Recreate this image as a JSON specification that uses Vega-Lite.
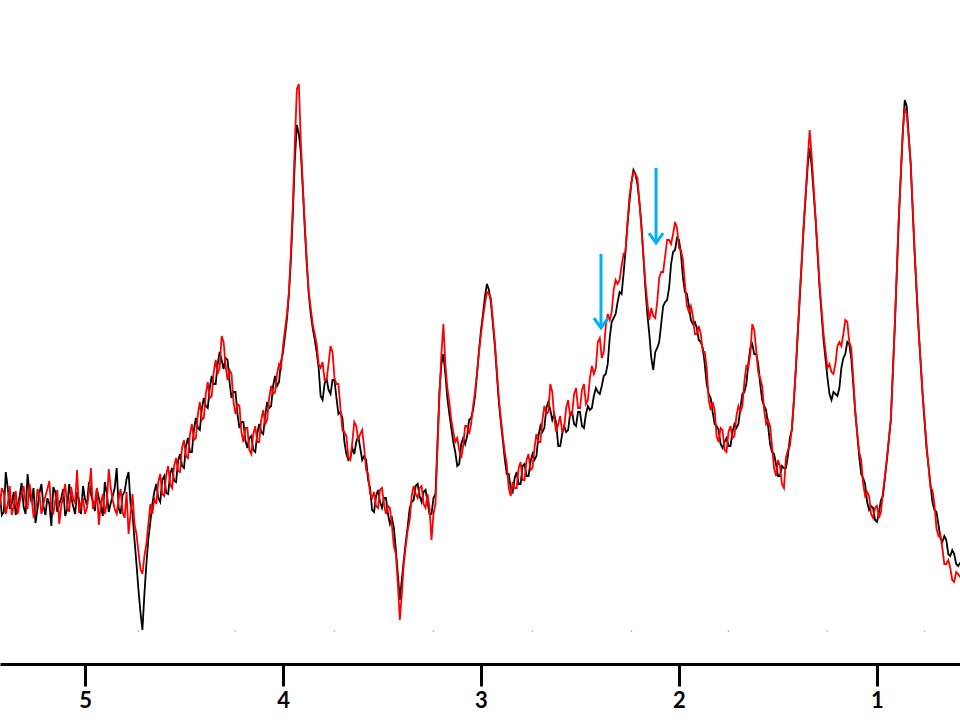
{
"$schema": "https://vega.github.io/schema/vega-lite/v6.json",
"width": 960, "height": 664,
"autosize": {"type": "none"},
"padding": {"left": 0, "top": 0, "right": 0, "bottom": 56},
"background": "white",
"config": {"view": {"stroke": null}},
"datasets": {
"spec": [
{"p":5.43,"b":170,"r":158},{"p":5.41,"b":152,"r":171},{"p":5.39,"b":176,"r":160},{"p":5.37,"b":160,"r":149},{"p":5.35,"b":149,"r":173},
{"p":5.33,"b":168,"r":162},{"p":5.31,"b":157,"r":178},{"p":5.29,"b":190,"r":155},{"p":5.27,"b":162,"r":166},{"p":5.25,"b":141,"r":152},
{"p":5.23,"b":171,"r":170},{"p":5.21,"b":158,"r":160},{"p":5.19,"b":166,"r":175},{"p":5.17,"b":138,"r":154},{"p":5.15,"b":172,"r":163},
{"p":5.13,"b":160,"r":140},{"p":5.11,"b":175,"r":169},{"p":5.09,"b":155,"r":158},{"p":5.07,"b":167,"r":177},{"p":5.05,"b":150,"r":161},
{"p":5.03,"b":164,"r":151},{"p":5.01,"b":178,"r":166},{"p":4.99,"b":159,"r":156},{"p":4.97,"b":170,"r":196},{"p":4.95,"b":153,"r":162},
{"p":4.93,"b":166,"r":139},{"p":4.91,"b":148,"r":170},{"p":4.89,"b":171,"r":160},{"p":4.87,"b":161,"r":176},{"p":4.85,"b":176,"r":155},
{"p":4.83,"b":156,"r":165},{"p":4.81,"b":169,"r":152},{"p":4.79,"b":185,"r":172},{"p":4.77,"b":160,"r":150},{"p":4.75,"b":124,"r":140},
{"p":4.73,"b":74,"r":112},{"p":4.71,"b":34,"r":90},{"p":4.69,"b":100,"r":120},{"p":4.67,"b":142,"r":160},{"p":4.65,"b":172,"r":165},
{"p":4.63,"b":166,"r":182},{"p":4.61,"b":184,"r":170},{"p":4.59,"b":171,"r":189},{"p":4.57,"b":190,"r":180},{"p":4.55,"b":183,"r":198},
{"p":4.53,"b":203,"r":193},{"p":4.51,"b":198,"r":216},{"p":4.49,"b":218,"r":208},{"p":4.47,"b":212,"r":230},{"p":4.45,"b":234,"r":224},
{"p":4.43,"b":236,"r":250},{"p":4.41,"b":255,"r":244},{"p":4.39,"b":258,"r":270},{"p":4.37,"b":276,"r":266},{"p":4.35,"b":280,"r":292},
{"p":4.33,"b":300,"r":290},{"p":4.31,"b":304,"r":328},{"p":4.29,"b":306,"r":298},{"p":4.27,"b":282,"r":294},{"p":4.25,"b":272,"r":262},
{"p":4.23,"b":250,"r":260},{"p":4.21,"b":242,"r":232},{"p":4.19,"b":224,"r":236},{"p":4.17,"b":226,"r":214},{"p":4.15,"b":214,"r":230},
{"p":4.13,"b":230,"r":222},{"p":4.11,"b":232,"r":244},{"p":4.09,"b":248,"r":240},{"p":4.07,"b":256,"r":266},{"p":4.05,"b":278,"r":270},
{"p":4.03,"b":278,"r":290},{"p":4.01,"b":302,"r":296},{"p":3.99,"b":328,"r":334},{"p":3.97,"b":370,"r":372},{"p":3.95,"b":452,"r":460},
{"p":3.94,"b":505,"r":522},{"p":3.93,"b":539,"r":575},{"p":3.92,"b":530,"r":580},{"p":3.91,"b":512,"r":522},{"p":3.89,"b":436,"r":440},
{"p":3.87,"b":370,"r":372},{"p":3.85,"b":336,"r":340},{"p":3.83,"b":312,"r":320},{"p":3.81,"b":268,"r":296},{"p":3.79,"b":280,"r":284},
{"p":3.77,"b":274,"r":300},{"p":3.75,"b":284,"r":312},{"p":3.73,"b":266,"r":280},{"p":3.71,"b":252,"r":256},{"p":3.69,"b":222,"r":232},
{"p":3.67,"b":204,"r":206},{"p":3.65,"b":216,"r":222},{"p":3.63,"b":222,"r":238},{"p":3.61,"b":216,"r":230},{"p":3.59,"b":208,"r":216},
{"p":3.57,"b":184,"r":190},{"p":3.55,"b":154,"r":166},{"p":3.53,"b":168,"r":158},{"p":3.51,"b":162,"r":174},{"p":3.49,"b":166,"r":160},
{"p":3.47,"b":150,"r":158},{"p":3.45,"b":146,"r":138},{"p":3.43,"b":114,"r":110},{"p":3.41,"b":64,"r":44},{"p":3.39,"b":104,"r":100},
{"p":3.37,"b":138,"r":134},{"p":3.35,"b":162,"r":168},{"p":3.33,"b":178,"r":170},{"p":3.31,"b":168,"r":176},{"p":3.29,"b":172,"r":160},
{"p":3.27,"b":162,"r":170},{"p":3.25,"b":150,"r":124},{"p":3.23,"b":170,"r":160},{"p":3.21,"b":272,"r":268},{"p":3.19,"b":310,"r":340},
{"p":3.17,"b":266,"r":276},{"p":3.15,"b":236,"r":244},{"p":3.13,"b":212,"r":222},{"p":3.11,"b":200,"r":214},{"p":3.09,"b":226,"r":218},
{"p":3.07,"b":228,"r":238},{"p":3.05,"b":246,"r":240},{"p":3.03,"b":268,"r":272},{"p":3.01,"b":314,"r":312},{"p":2.99,"b":350,"r":346},
{"p":2.97,"b":380,"r":372},{"p":2.95,"b":362,"r":366},{"p":2.93,"b":318,"r":322},{"p":2.91,"b":262,"r":266},{"p":2.89,"b":224,"r":228},
{"p":2.87,"b":190,"r":200},{"p":2.85,"b":176,"r":168},{"p":2.83,"b":186,"r":176},{"p":2.81,"b":180,"r":196},{"p":2.79,"b":198,"r":184},
{"p":2.77,"b":188,"r":204},{"p":2.75,"b":202,"r":194},{"p":2.73,"b":204,"r":216},{"p":2.71,"b":228,"r":222},{"p":2.69,"b":232,"r":244},
{"p":2.67,"b":256,"r":250},{"p":2.65,"b":254,"r":280},{"p":2.63,"b":250,"r":246},{"p":2.61,"b":218,"r":240},{"p":2.59,"b":230,"r":232},
{"p":2.57,"b":232,"r":256},{"p":2.55,"b":250,"r":248},{"p":2.53,"b":240,"r":270},{"p":2.51,"b":252,"r":256},{"p":2.49,"b":238,"r":274},
{"p":2.47,"b":250,"r":260},{"p":2.45,"b":254,"r":286},{"p":2.43,"b":268,"r":290},{"p":2.41,"b":272,"r":322},{"p":2.39,"b":278,"r":306},
{"p":2.37,"b":290,"r":338},{"p":2.35,"b":326,"r":344},{"p":2.33,"b":346,"r":374},{"p":2.31,"b":362,"r":380},{"p":2.29,"b":370,"r":398},
{"p":2.27,"b":414,"r":412},{"p":2.25,"b":462,"r":468},{"p":2.23,"b":494,"r":492},{"p":2.21,"b":480,"r":486},{"p":2.19,"b":440,"r":436},
{"p":2.17,"b":376,"r":382},{"p":2.15,"b":330,"r":344},{"p":2.13,"b":294,"r":348},{"p":2.11,"b":316,"r":362},{"p":2.09,"b":340,"r":392},
{"p":2.07,"b":362,"r":408},{"p":2.05,"b":376,"r":424},{"p":2.03,"b":412,"r":430},{"p":2.01,"b":426,"r":436},{"p":1.99,"b":410,"r":414},
{"p":1.97,"b":372,"r":380},{"p":1.95,"b":358,"r":352},{"p":1.93,"b":340,"r":348},{"p":1.91,"b":336,"r":330},{"p":1.89,"b":322,"r":330},
{"p":1.87,"b":300,"r":312},{"p":1.85,"b":270,"r":264},{"p":1.83,"b":252,"r":262},{"p":1.81,"b":238,"r":228},{"p":1.79,"b":220,"r":236},
{"p":1.77,"b":222,"r":214},{"p":1.75,"b":218,"r":232},{"p":1.73,"b":232,"r":226},{"p":1.71,"b":236,"r":248},{"p":1.69,"b":256,"r":252},
{"p":1.67,"b":272,"r":282},{"p":1.65,"b":300,"r":296},{"p":1.63,"b":320,"r":340},{"p":1.61,"b":310,"r":314},{"p":1.59,"b":280,"r":286},
{"p":1.57,"b":258,"r":254},{"p":1.55,"b":238,"r":244},{"p":1.53,"b":212,"r":218},{"p":1.51,"b":200,"r":188},{"p":1.49,"b":188,"r":198},
{"p":1.47,"b":196,"r":176},{"p":1.45,"b":208,"r":214},{"p":1.43,"b":234,"r":236},{"p":1.41,"b":294,"r":296},{"p":1.39,"b":366,"r":370},
{"p":1.37,"b":438,"r":440},{"p":1.35,"b":498,"r":504},{"p":1.34,"b":516,"r":534},{"p":1.33,"b":498,"r":508},{"p":1.31,"b":444,"r":446},
{"p":1.29,"b":376,"r":380},{"p":1.27,"b":324,"r":330},{"p":1.25,"b":286,"r":296},{"p":1.23,"b":264,"r":292},{"p":1.21,"b":270,"r":300},
{"p":1.19,"b":276,"r":322},{"p":1.17,"b":306,"r":330},{"p":1.15,"b":322,"r":342},{"p":1.13,"b":306,"r":316},{"p":1.11,"b":252,"r":254},
{"p":1.09,"b":208,"r":212},{"p":1.07,"b":186,"r":180},{"p":1.05,"b":162,"r":172},{"p":1.03,"b":158,"r":150},{"p":1.01,"b":144,"r":156},
{"p":0.99,"b":152,"r":146},{"p":0.97,"b":168,"r":172},{"p":0.95,"b":204,"r":206},{"p":0.93,"b":244,"r":246},{"p":0.91,"b":338,"r":340},
{"p":0.89,"b":444,"r":446},{"p":0.87,"b":530,"r":532},{"p":0.86,"b":564,"r":556},{"p":0.85,"b":558,"r":550},{"p":0.83,"b":500,"r":502},
{"p":0.81,"b":410,"r":414},{"p":0.79,"b":334,"r":336},{"p":0.77,"b":270,"r":272},{"p":0.75,"b":216,"r":220},{"p":0.73,"b":180,"r":176},
{"p":0.71,"b":154,"r":160},{"p":0.69,"b":140,"r":128},{"p":0.67,"b":122,"r":116},{"p":0.65,"b":124,"r":100},{"p":0.63,"b":108,"r":96},
{"p":0.61,"b":110,"r":82},{"p":0.59,"b":98,"r":90},{"p":0.57,"b":104,"r":84},
{"p":5.42,"b":149,"r":176},{"p":5.40,"b":192,"r":150},{"p":5.38,"b":155,"r":178},{"p":5.36,"b":172,"r":158},{"p":5.34,"b":158,"r":150},
{"p":5.32,"b":181,"r":170},{"p":5.30,"b":150,"r":160},{"p":5.28,"b":170,"r":180},{"p":5.26,"b":176,"r":148},{"p":5.24,"b":155,"r":175},
{"p":5.22,"b":180,"r":150},{"p":5.20,"b":149,"r":168},{"p":5.18,"b":160,"r":183},{"p":5.16,"b":177,"r":151},{"p":5.14,"b":152,"r":174},
{"p":5.12,"b":166,"r":158},{"p":5.10,"b":148,"r":180},{"p":5.08,"b":180,"r":152},{"p":5.06,"b":158,"r":165},{"p":5.04,"b":172,"r":194},
{"p":5.02,"b":150,"r":160},{"p":5.00,"b":165,"r":150},{"p":4.98,"b":182,"r":172},{"p":4.96,"b":162,"r":155},{"p":4.94,"b":175,"r":176},
{"p":4.92,"b":158,"r":160},{"p":4.90,"b":182,"r":150},{"p":4.88,"b":152,"r":195},{"p":4.86,"b":168,"r":164},{"p":4.84,"b":196,"r":150},
{"p":4.82,"b":150,"r":175},{"p":4.80,"b":172,"r":146},{"p":4.78,"b":192,"r":130},{"p":4.76,"b":150,"r":170},{"p":4.74,"b":100,"r":130},
{"p":4.72,"b":52,"r":95},{"p":4.70,"b":70,"r":108},{"p":4.68,"b":125,"r":140},{"p":4.66,"b":160,"r":150},
{"p":4.64,"b":180,"r":160},{"p":4.62,"b":162,"r":190},{"p":4.60,"b":188,"r":168},{"p":4.58,"b":170,"r":198},{"p":4.56,"b":196,"r":176},
{"p":4.54,"b":182,"r":206},{"p":4.52,"b":210,"r":192},{"p":4.50,"b":196,"r":224},{"p":4.48,"b":226,"r":206},{"p":4.46,"b":212,"r":240},
{"p":4.44,"b":246,"r":226},{"p":4.42,"b":234,"r":262},{"p":4.40,"b":266,"r":246},{"p":4.38,"b":256,"r":282},{"p":4.36,"b":288,"r":268},
{"p":4.34,"b":280,"r":304},{"p":4.32,"b":312,"r":296},{"p":4.30,"b":295,"r":322},{"p":4.28,"b":304,"r":284},{"p":4.26,"b":266,"r":290},
{"p":4.24,"b":272,"r":250},{"p":4.22,"b":236,"r":258},{"p":4.20,"b":242,"r":222},{"p":4.18,"b":216,"r":236},{"p":4.16,"b":228,"r":210},
{"p":4.14,"b":212,"r":238},{"p":4.12,"b":240,"r":222},{"p":4.10,"b":230,"r":254},{"p":4.08,"b":262,"r":244},{"p":4.06,"b":258,"r":278},
{"p":4.04,"b":288,"r":272},{"p":4.02,"b":282,"r":300},{"p":4.00,"b":312,"r":318},{"p":3.98,"b":345,"r":350},{"p":3.96,"b":405,"r":412},
{"p":3.90,"b":475,"r":480},{"p":3.88,"b":400,"r":404},{"p":3.86,"b":350,"r":356},{"p":3.84,"b":325,"r":330},
{"p":3.82,"b":296,"r":300},{"p":3.80,"b":264,"r":302},{"p":3.78,"b":286,"r":284},{"p":3.76,"b":270,"r":318},{"p":3.74,"b":284,"r":286},
{"p":3.72,"b":250,"r":280},{"p":3.70,"b":246,"r":234},{"p":3.68,"b":210,"r":228},{"p":3.66,"b":206,"r":204},{"p":3.64,"b":210,"r":242},
{"p":3.62,"b":228,"r":224},{"p":3.60,"b":204,"r":234},{"p":3.58,"b":204,"r":194},{"p":3.56,"b":176,"r":170},{"p":3.54,"b":152,"r":172},
{"p":3.52,"b":174,"r":156},{"p":3.50,"b":156,"r":176},{"p":3.48,"b":166,"r":150},{"p":3.46,"b":140,"r":156},{"p":3.44,"b":136,"r":118},
{"p":3.42,"b":90,"r":80},{"p":3.40,"b":84,"r":70},{"p":3.38,"b":122,"r":118},
{"p":3.36,"b":156,"r":144},{"p":3.34,"b":164,"r":178},{"p":3.32,"b":180,"r":166},{"p":3.30,"b":162,"r":178},{"p":3.28,"b":174,"r":156},
{"p":3.26,"b":150,"r":156},{"p":3.24,"b":166,"r":150},{"p":3.22,"b":220,"r":215},{"p":3.20,"b":300,"r":310},{"p":3.18,"b":290,"r":300},
{"p":3.16,"b":250,"r":262},{"p":3.14,"b":222,"r":232},{"p":3.12,"b":198,"r":226},{"p":3.10,"b":220,"r":206},{"p":3.08,"b":220,"r":238},
{"p":3.06,"b":244,"r":230},{"p":3.04,"b":254,"r":258},{"p":3.02,"b":290,"r":292},{"p":3.00,"b":334,"r":330},{"p":2.98,"b":368,"r":360},
{"p":2.96,"b":374,"r":370},{"p":2.94,"b":340,"r":344},{"p":2.92,"b":290,"r":294},{"p":2.90,"b":242,"r":246},{"p":2.88,"b":205,"r":212},
{"p":2.86,"b":190,"r":176},{"p":2.84,"b":172,"r":182},{"p":2.82,"b":192,"r":176},{"p":2.80,"b":180,"r":202},{"p":2.78,"b":200,"r":184},
{"p":2.76,"b":188,"r":210},{"p":2.74,"b":210,"r":196},{"p":2.72,"b":208,"r":230},{"p":2.70,"b":238,"r":222},{"p":2.68,"b":236,"r":258},
{"p":2.66,"b":262,"r":252},{"p":2.64,"b":244,"r":272},{"p":2.62,"b":240,"r":232},{"p":2.60,"b":218,"r":248},{"p":2.58,"b":238,"r":236},
{"p":2.56,"b":234,"r":264},{"p":2.54,"b":252,"r":250},{"p":2.52,"b":238,"r":276},{"p":2.50,"b":252,"r":256},{"p":2.48,"b":236,"r":280},
{"p":2.46,"b":258,"r":264},{"p":2.44,"b":256,"r":298},{"p":2.42,"b":276,"r":296},{"p":2.40,"b":270,"r":326},{"p":2.38,"b":288,"r":312},
{"p":2.36,"b":300,"r":350},{"p":2.34,"b":342,"r":352},{"p":2.32,"b":350,"r":384},{"p":2.30,"b":372,"r":384},{"p":2.28,"b":390,"r":410},
{"p":2.26,"b":440,"r":442},{"p":2.24,"b":482,"r":482},{"p":2.22,"b":490,"r":490},{"p":2.20,"b":462,"r":462},{"p":2.18,"b":408,"r":410},
{"p":2.16,"b":350,"r":362},{"p":2.14,"b":306,"r":356},{"p":2.12,"b":312,"r":346},{"p":2.10,"b":322,"r":386},{"p":2.08,"b":358,"r":392},
{"p":2.06,"b":364,"r":424},{"p":2.04,"b":400,"r":420},{"p":2.02,"b":414,"r":442},{"p":2.00,"b":424,"r":416},{"p":1.98,"b":386,"r":404},
{"p":1.96,"b":370,"r":358},{"p":1.94,"b":344,"r":358},{"p":1.92,"b":342,"r":330},{"p":1.90,"b":324,"r":338},{"p":1.88,"b":316,"r":312},
{"p":1.86,"b":280,"r":296},{"p":1.84,"b":266,"r":254},{"p":1.82,"b":240,"r":254},{"p":1.80,"b":234,"r":222},{"p":1.78,"b":216,"r":234},
{"p":1.76,"b":226,"r":212},{"p":1.74,"b":218,"r":238},{"p":1.72,"b":240,"r":228},{"p":1.70,"b":240,"r":258},{"p":1.68,"b":270,"r":258},
{"p":1.66,"b":280,"r":298},{"p":1.64,"b":316,"r":310},{"p":1.62,"b":310,"r":334},{"p":1.60,"b":300,"r":292},{"p":1.58,"b":264,"r":278},
{"p":1.56,"b":254,"r":240},{"p":1.54,"b":220,"r":238},{"p":1.52,"b":210,"r":196},{"p":1.50,"b":188,"r":204},{"p":1.48,"b":198,"r":180},
{"p":1.46,"b":196,"r":206},{"p":1.44,"b":226,"r":218},{"p":1.42,"b":262,"r":264},
{"p":1.24,"b":270,"r":300},{"p":1.22,"b":272,"r":290},{"p":1.20,"b":268,"r":318},{"p":1.18,"b":296,"r":318},{"p":1.16,"b":310,"r":344},
{"p":1.14,"b":320,"r":322},{"p":1.12,"b":280,"r":286},{"p":1.10,"b":230,"r":232},{"p":1.08,"b":190,"r":204},{"p":1.06,"b":180,"r":168},
{"p":1.04,"b":154,"r":168},{"p":1.02,"b":156,"r":146},{"p":1.00,"b":142,"r":158},{"p":0.98,"b":164,"r":152},{"p":0.96,"b":186,"r":188},
{"p":0.94,"b":224,"r":226},{"p":0.74,"b":198,"r":198},{"p":0.72,"b":162,"r":174},{"p":0.70,"b":152,"r":136},{"p":0.68,"b":126,"r":130},
{"p":0.66,"b":128,"r":100},{"p":0.64,"b":110,"r":104},{"p":0.62,"b":114,"r":84},{"p":0.60,"b":100,"r":92}
],
"arrows": [
{"p":2.394,"top":410,"bottom":336},
{"p":2.116,"top":496,"bottom":421}
],
"dots": [
{"p":4.73,"y":33},{"p":4.24,"y":33},{"p":3.74,"y":33},{"p":3.24,"y":33},{"p":2.74,"y":33},
{"p":2.24,"y":33},{"p":1.75,"y":33},{"p":1.25,"y":33},{"p":0.76,"y":33}
]
},
"layer": [
{
"data": {"name": "dots"},
"mark": {"type": "point", "filled": true, "size": 3, "color": "#aaaaaa", "opacity": 1},
"encoding": {
"x": {"field": "p", "type": "quantitative", "scale": {"domain": [0.5808, 5.4293], "reverse": true, "nice": false, "zero": false},
"axis": {"values": [1, 2, 3, 4, 5], "format": "d", "title": null, "grid": false, "domainColor": "#000000", "domainWidth": 3, "tickColor": "#000000", "tickWidth": 3, "tickSize": 22, "labelFont": "Lato", "labelFontSize": 22, "labelFontWeight": "bold", "labelColor": "#000000", "labelPadding": 4, "labelFlush": false}},
"y": {"field": "y", "type": "quantitative", "scale": {"domain": [0, 664], "nice": false, "zero": false}, "axis": null}
}
},
{
"data": {"name": "spec"},
"mark": {"type": "line", "color": "#000000", "strokeWidth": 1.8, "clip": true},
"encoding": {
"x": {"field": "p", "type": "quantitative"},
"y": {"field": "b", "type": "quantitative"}
}
},
{
"data": {"name": "spec"},
"mark": {"type": "line", "color": "#ff0000", "strokeWidth": 1.8, "clip": true},
"encoding": {
"x": {"field": "p", "type": "quantitative"},
"y": {"field": "r", "type": "quantitative"}
}
},
{
"data": {"name": "arrows"},
"mark": {"type": "rule", "color": "#00b0f0", "strokeWidth": 3},
"encoding": {
"x": {"field": "p", "type": "quantitative"},
"y": {"field": "top", "type": "quantitative"},
"y2": {"field": "bottom"}
}
},
{
"data": {"name": "arrows"},
"mark": {"type": "point", "shape": "M-1,-1.4L0,0L1,-1.4", "filled": false, "size": 196, "color": "#00b0f0", "strokeWidth": 3, "opacity": 1},
"encoding": {
"x": {"field": "p", "type": "quantitative"},
"y": {"field": "bottom", "type": "quantitative"}
}
}
]
}
